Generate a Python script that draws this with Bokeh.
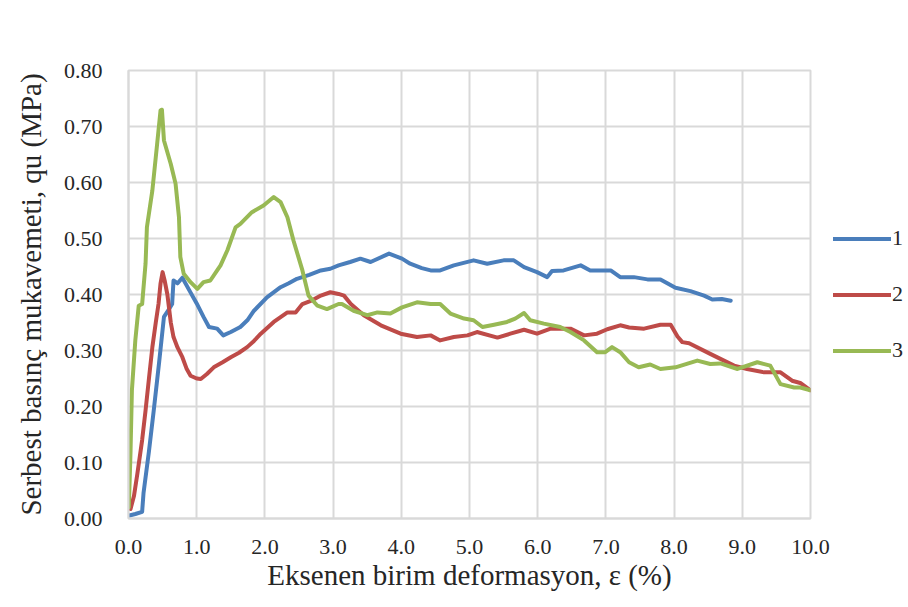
from bokeh.plotting import figure
from bokeh.models import (Range1d, FixedTicker, NumeralTickFormatter, Legend, LegendItem)
from bokeh.embed import file_html
from bokeh.resources import INLINE

# ---- data ----
x1 = [0.0, 0.1, 0.2, 0.22, 0.30, 0.37, 0.45, 0.52, 0.60, 0.64, 0.66, 0.72, 0.79, 0.88, 1.00,
      1.10, 1.18, 1.30, 1.39, 1.50, 1.64, 1.75, 1.84, 2.03, 2.23, 2.35, 2.47, 2.65, 2.82, 2.96,
      3.08, 3.25, 3.40, 3.55, 3.82, 4.01, 4.13, 4.30, 4.43, 4.57, 4.77, 5.06, 5.26, 5.50, 5.65,
      5.80, 5.99, 6.14, 6.21, 6.38, 6.63, 6.77, 7.07, 7.21, 7.41, 7.61, 7.80, 8.02, 8.24, 8.44,
      8.56, 8.70, 8.83]
y1 = [0.005, 0.008, 0.012, 0.045, 0.120, 0.193, 0.280, 0.360, 0.375, 0.383, 0.425, 0.420,
      0.430, 0.410, 0.384, 0.360, 0.342, 0.339, 0.327, 0.333, 0.342, 0.355, 0.371, 0.395, 0.413,
      0.420, 0.428, 0.435, 0.443, 0.446, 0.452, 0.458, 0.464, 0.458, 0.473, 0.464, 0.455, 0.447,
      0.443, 0.443, 0.452, 0.461, 0.455, 0.461, 0.461, 0.449, 0.440, 0.431, 0.442, 0.443, 0.452,
      0.443, 0.443, 0.431, 0.431, 0.427, 0.427, 0.412, 0.406, 0.398, 0.391, 0.392, 0.389]

x2 = [0.03, 0.08, 0.13, 0.20, 0.25, 0.30, 0.35, 0.40, 0.44, 0.47, 0.50, 0.53, 0.57, 0.62, 0.66,
      0.72, 0.79, 0.85, 0.91, 1.00, 1.06, 1.15, 1.25, 1.38, 1.50, 1.62, 1.74, 1.84, 1.94, 2.13,
      2.33, 2.45, 2.55, 2.70, 2.82, 2.96, 3.08, 3.16, 3.26, 3.45, 3.70, 3.99, 4.23, 4.43, 4.57,
      4.77, 4.97, 5.11, 5.41, 5.60, 5.80, 5.99, 6.19, 6.48, 6.68, 6.87, 7.02, 7.21, 7.34, 7.56,
      7.80, 7.95, 8.05, 8.12, 8.22, 8.53, 8.88, 9.07, 9.32, 9.56, 9.73, 9.85, 10.0]
y2 = [0.017, 0.040, 0.080, 0.140, 0.193, 0.250, 0.306, 0.350, 0.383, 0.420, 0.440, 0.425,
      0.400, 0.350, 0.324, 0.305, 0.288, 0.268, 0.255, 0.250, 0.249, 0.258, 0.270, 0.279, 0.288,
      0.296, 0.306, 0.317, 0.330, 0.351, 0.368, 0.368, 0.383, 0.390, 0.398, 0.404, 0.401, 0.398,
      0.383, 0.363, 0.345, 0.330, 0.324, 0.327, 0.318, 0.324, 0.327, 0.333, 0.323, 0.330, 0.337,
      0.330, 0.339, 0.339, 0.327, 0.330, 0.338, 0.345, 0.341, 0.339, 0.346, 0.346, 0.325, 0.315,
      0.313, 0.294, 0.273, 0.267, 0.261, 0.261, 0.246, 0.242, 0.229]

x3 = [0.005, 0.03, 0.05, 0.10, 0.15, 0.20, 0.25, 0.27, 0.35, 0.42, 0.47, 0.49, 0.52, 0.62, 0.69,
      0.74, 0.76, 0.81, 0.91, 1.01, 1.10, 1.20, 1.30, 1.35, 1.45, 1.57, 1.64, 1.81, 1.98, 2.13,
      2.23, 2.33, 2.42, 2.55, 2.64, 2.77, 2.91, 3.08, 3.13, 3.30, 3.50, 3.65, 3.84, 4.01, 4.23,
      4.43, 4.57, 4.72, 4.92, 5.06, 5.19, 5.36, 5.55, 5.67, 5.80, 5.89, 6.09, 6.33, 6.48, 6.68,
      6.87, 6.99, 7.09, 7.21, 7.34, 7.48, 7.65, 7.80, 8.02, 8.34, 8.53, 8.68, 8.93, 9.22, 9.41,
      9.56, 9.76, 9.85, 10.0]
y3 = [0.020, 0.120, 0.229, 0.318, 0.380, 0.383, 0.455, 0.520, 0.586, 0.669, 0.729, 0.730,
      0.675, 0.633, 0.598, 0.538, 0.467, 0.437, 0.422, 0.410, 0.422, 0.425, 0.443, 0.452, 0.479,
      0.520, 0.526, 0.547, 0.559, 0.574, 0.565, 0.538, 0.496, 0.443, 0.398, 0.380, 0.374, 0.383,
      0.383, 0.371, 0.363, 0.368, 0.366, 0.377, 0.386, 0.383, 0.383, 0.366, 0.357, 0.354, 0.342,
      0.346, 0.351, 0.357, 0.367, 0.354, 0.348, 0.342, 0.333, 0.318, 0.297, 0.297, 0.306, 0.297,
      0.279, 0.270, 0.275, 0.267, 0.270, 0.282, 0.276, 0.277, 0.267, 0.279, 0.273, 0.240, 0.234,
      0.234, 0.229]

series_names = ["1", "2", "3"]
series_colors = ["#4A7EBB", "#BE4B48", "#98B954"]
x_ticks = [0, 1, 2, 3, 4, 5, 6, 7, 8, 9, 10]
y_ticks = [0.0, 0.1, 0.2, 0.3, 0.4, 0.5, 0.6, 0.7, 0.8]

FONT = "Liberation Serif"
TXT = "#262626"
GRID = "#d9d9d9"

p = figure(frame_width=682, frame_height=448, output_backend="svg", toolbar_location=None,
           x_range=Range1d(0, 10), y_range=Range1d(0, 0.8),
           min_border_left=128, min_border_right=0, min_border_top=70, min_border_bottom=89)

p.background_fill_color = "white"
p.border_fill_color = "white"
p.outline_line_color = GRID
p.outline_line_width = 2

rs = []
for xs, ys, c in zip([x1, x2, x3], [y1, y2, y3], series_colors):
    r = p.line(xs, ys, line_color=c, line_width=4, line_join="round", line_cap="round")
    rs.append(r)

p.xaxis.ticker = FixedTicker(ticks=x_ticks)
p.yaxis.ticker = FixedTicker(ticks=y_ticks)
p.xaxis.formatter = NumeralTickFormatter(format="0.0")
p.yaxis.formatter = NumeralTickFormatter(format="0.00")

for ax in (p.xaxis, p.yaxis):
    ax.axis_line_color = GRID
    ax.axis_line_width = 2
    ax.major_tick_line_color = None
    ax.minor_tick_line_color = None
    ax.major_tick_out = 0
    ax.major_tick_in = 0
    ax.major_label_text_font = FONT
    ax.major_label_text_font_size = "22px"
    ax.major_label_text_color = TXT
    ax.axis_label_text_font = FONT
    ax.axis_label_text_font_size = "29px"
    ax.axis_label_text_font_style = "normal"
    ax.axis_label_text_color = TXT

p.xaxis.axis_label = "Eksenen birim deformasyon, ε (%)"
p.yaxis.axis_label = "Serbest basınç mukavemeti, qu (MPa)"
p.xaxis.major_label_standoff = 21
p.yaxis.major_label_standoff = 26
p.xaxis.axis_label_standoff = 2
p.yaxis.axis_label_standoff = 14

p.xgrid.grid_line_color = GRID
p.ygrid.grid_line_color = GRID
p.xgrid.grid_line_width = 2
p.ygrid.grid_line_width = 2

legend = Legend(items=[LegendItem(label=n, renderers=[r]) for n, r in zip(series_names, rs)],
                location="center_left", margin=23, padding=2, spacing=30,
                glyph_width=58, glyph_height=25, label_height=25, label_standoff=1,
                label_text_font=FONT, label_text_font_size="22px", label_text_color=TXT,
                border_line_color=None, background_fill_alpha=0)
p.add_layout(legend, "right")

open("out.html", "w").write(file_html(p, INLINE))
